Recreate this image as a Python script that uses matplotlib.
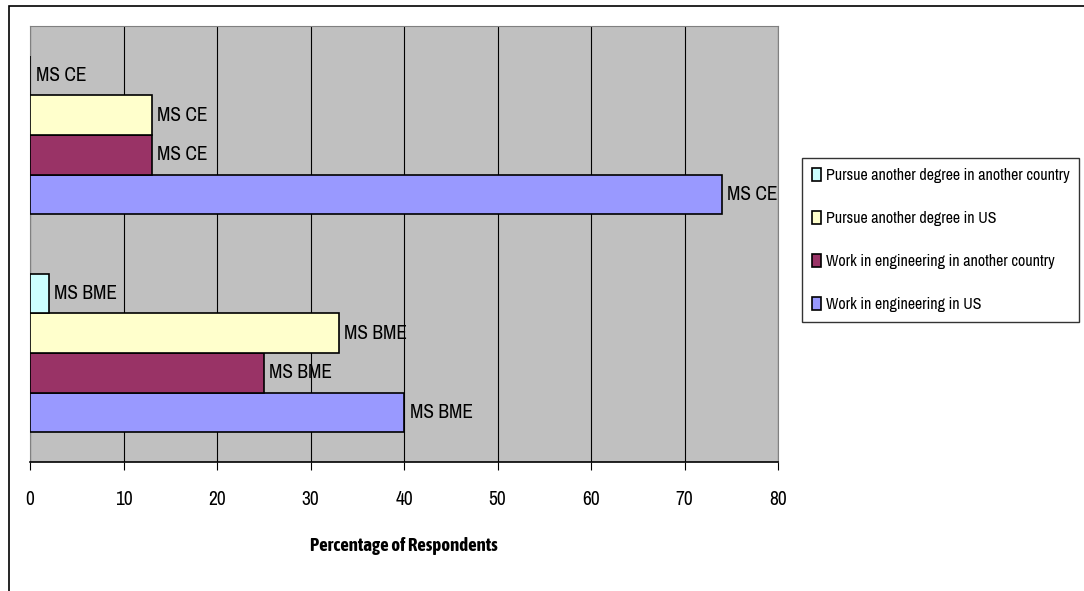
import numpy as np
import matplotlib
matplotlib.use("Agg")
from matplotlib import pyplot as plt
from matplotlib.patches import Rectangle

plt.rcParams['font.family'] = ['Archivo Narrow', 'DejaVu Sans']

programs = ["MS BME", "MS CE"]
series = ["Work in engineering in US",
          "Work in engineering in another country",
          "Pursue another degree in US",
          "Pursue another degree in another country"]
work_us = [40, 74]
work_abroad = [25, 13]
degree_us = [33, 13]
degree_abroad = [2, 0]
colors = ["#9999FF", "#993366", "#FFFFCC", "#CCFFFF"]
xticks = [0, 10, 20, 30, 40, 50, 60, 70, 80]


def plot_outcomes():
    fig = plt.figure(figsize=(10.84, 5.91), dpi=100)
    # outer chart frame, runs off the right and bottom edges
    fig.patches.append(Rectangle((9 / 1084, -0.05), 1.1, 1 - 6 / 591 + 0.05,
                                 transform=fig.transFigure, fill=False,
                                 edgecolor='black', linewidth=1.2))
    ax = fig.add_axes([30 / 1084, 1 - 462 / 591, 748 / 1084, 436 / 591])
    ax.set_facecolor("#C0C0C0")

    y = np.arange(len(programs))
    h = 1 / 5.5
    values = [work_us, work_abroad, degree_us, degree_abroad]
    handles = []
    for i, vals in enumerate(values):
        bars = ax.barh(y + (i - 1.5) * h, vals, height=h, color=colors[i],
                       edgecolor='black', linewidth=1.2, label=series[i], zorder=3)
        ax.bar_label(bars, labels=programs, padding=4, fontsize=14, zorder=4)
        handles.append(bars)

    ax.set_xlim(0, 80)
    ax.set_ylim(-0.5, 1.5)
    ax.set_xticks(xticks)
    ax.set_yticks([])
    ax.grid(axis='x', color='black', linewidth=0.8, zorder=1)
    ax.tick_params(axis='x', direction='out', length=6, width=0.8, pad=14, labelsize=14)
    for side in ['top', 'right', 'left']:
        ax.spines[side].set_color('#808080')
    ax.spines['bottom'].set_color('black')
    ax.spines['bottom'].set_linewidth(1.2)
    ax.set_xlabel("Percentage of Respondents", fontsize=13.5, fontweight='bold',
                  family=['Asap Condensed', 'Archivo Narrow'], labelpad=20)

    leg = fig.legend(handles[::-1], series[::-1], loc='upper left',
                     bbox_to_anchor=(802 / 1084, 1 - 158 / 591), fontsize=11.5,
                     frameon=True, fancybox=False, edgecolor='black',
                     handlelength=0.6, handleheight=0.9, handletextpad=0.3,
                     labelspacing=1.75, borderpad=0.6, borderaxespad=0)
    leg.get_frame().set_linewidth(1.0)

    plt.savefig("out.png", dpi=100)


if __name__ == "__main__":
    plot_outcomes()
